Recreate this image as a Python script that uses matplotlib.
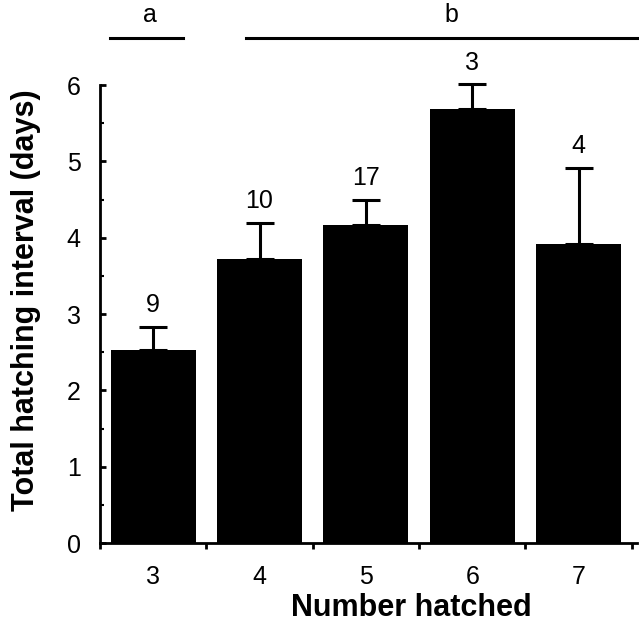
import matplotlib.pyplot as plt
from matplotlib.ticker import MultipleLocator

# number of young hatched per clutch and the mean total hatching interval
clutch_sizes = [3, 4, 5, 6, 7]
mean_interval = [2.53, 3.72, 4.17, 5.68, 3.92]
upper_se = [0.30, 0.47, 0.33, 0.33, 0.99]
sample_sizes = [9, 10, 17, 3, 4]

# letters for groups that differ, with the span of each line
group_letters = ['a', 'b']
group_start = [2.59, 3.87]
group_end = [3.28, 7.6]
letter_x = [2.97, 5.8]


def plot_intervals():
    """Bar chart of hatching interval against number hatched."""
    plt.rcParams['font.family'] = ['Liberation Sans', 'DejaVu Sans']
    fig = plt.figure(figsize=(6.39, 6.32), dpi=100)
    ax = fig.add_axes([0.1565, 0.1408, 0.8405, 0.7247])

    ax.bar(clutch_sizes, mean_interval, width=0.8, color='black')
    eb = ax.errorbar(clutch_sizes, mean_interval, yerr=[[0] * 5, upper_se],
                     fmt='none', ecolor='black', elinewidth=2.2, capsize=10,
                     capthick=2.2)
    for artist in eb.lines[1] + eb.lines[2]:
        artist.set_clip_on(False)

    for x, m, e, n in zip(clutch_sizes, mean_interval, upper_se, sample_sizes):
        ax.annotate(str(n), (x, m + e), xytext=(0, 7), textcoords='offset points',
                    ha='center', va='bottom', fontsize=18, annotation_clip=False)

    for letter, x0, x1, lx in zip(group_letters, group_start, group_end, letter_x):
        ax.plot([x0, x1], [6.62, 6.62], color='black', lw=2.2, clip_on=False)
        ax.text(lx, 6.76, letter, ha='center', va='bottom', fontsize=18)

    ax.set_xlim(2.5, 7.55)
    ax.set_ylim(0, 6)

    ax.spines['top'].set_visible(False)
    ax.spines['right'].set_visible(False)
    ax.spines['left'].set_linewidth(2.0)
    ax.spines['bottom'].set_linewidth(2.0)

    ax.set_xticks(clutch_sizes)
    ax.set_xticklabels([str(c) for c in clutch_sizes], fontsize=18)
    ax.tick_params(axis='x', which='major', length=0, pad=16)
    ax.set_xticks([2.5, 3.5, 4.5, 5.5, 6.5, 7.5], minor=True)
    ax.tick_params(axis='x', which='minor', length=4, width=2, direction='out')

    ax.yaxis.set_major_locator(MultipleLocator(1))
    ax.yaxis.set_minor_locator(MultipleLocator(0.5))
    ax.tick_params(axis='y', which='major', direction='in', length=4, width=2,
                   labelsize=18, pad=14)
    ax.tick_params(axis='y', which='minor', direction='in', length=3, width=1.5)

    ax.set_ylabel('Total hatching interval (days)', fontsize=22, fontweight='bold')
    ax.yaxis.set_label_coords(-0.11, 0.53)
    ax.set_xlabel('Number hatched', fontsize=22, fontweight='bold')
    ax.xaxis.set_label_coords(0.58, -0.11)

    fig.savefig('out.png', dpi=100)


def main():
    plot_intervals()


if __name__ == "__main__":
    main()
